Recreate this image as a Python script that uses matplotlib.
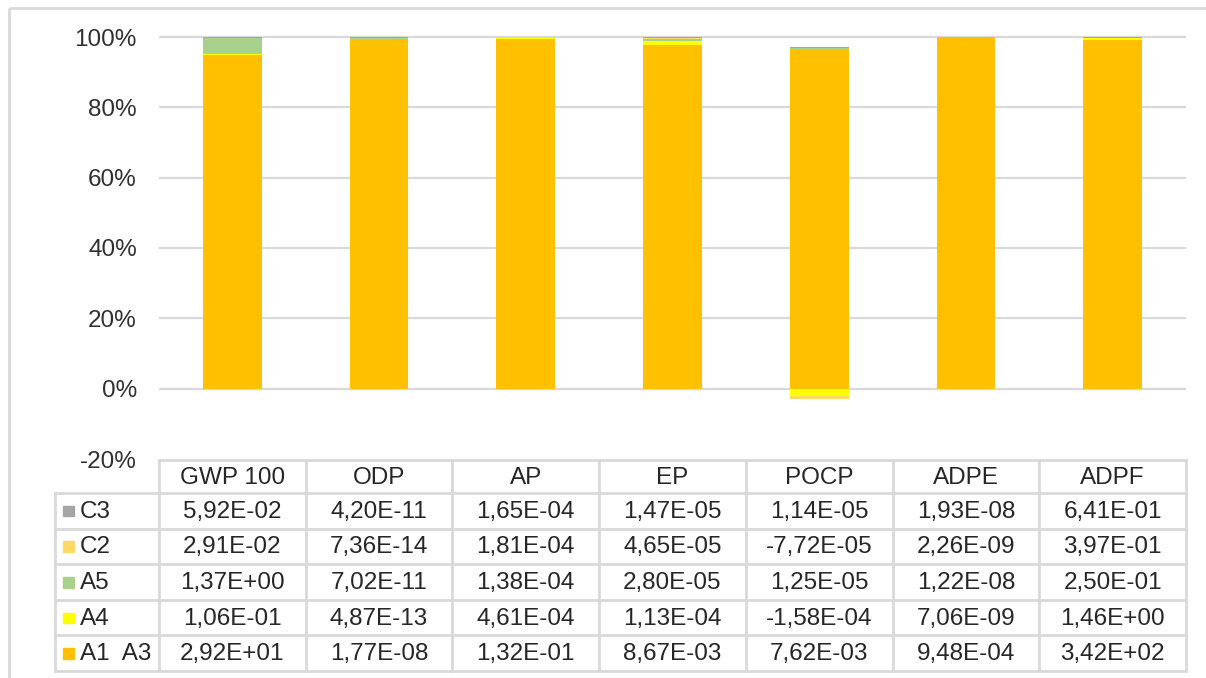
import numpy as np
import matplotlib
matplotlib.use('Agg')
from matplotlib import pyplot as plt
from matplotlib.patches import Rectangle

plt.rcParams['font.family'] = ['Liberation Sans', 'DejaVu Sans']

categories = ['GWP 100', 'ODP', 'AP', 'EP', 'POCP', 'ADPE', 'ADPF']
series_names = ['C3', 'C2', 'A5', 'A4', 'A1  A3']   # table order, top to bottom
c3 = [5.92e-02, 4.20e-11, 1.65e-04, 1.47e-05, 1.14e-05, 1.93e-08, 6.41e-01]
c2 = [2.91e-02, 7.36e-14, 1.81e-04, 4.65e-05, -7.72e-05, 2.26e-09, 3.97e-01]
a5 = [1.37e+00, 7.02e-11, 1.38e-04, 2.80e-05, 1.25e-05, 1.22e-08, 2.50e-01]
a4 = [1.06e-01, 4.87e-13, 4.61e-04, 1.13e-04, -1.58e-04, 7.06e-09, 1.46e+00]
a1_a3 = [2.92e+01, 1.77e-08, 1.32e-01, 8.67e-03, 7.62e-03, 9.48e-04, 3.42e+02]
colors = {'C3': '#A5A5A5', 'C2': '#FFD966', 'A5': '#A9D18E', 'A4': '#FFFF00', 'A1  A3': '#FFC000'}
yticks = [-20, 0, 20, 40, 60, 80, 100]

table_rows = [c3, c2, a5, a4, a1_a3]
stack_order = [('A1  A3', a1_a3), ('A4', a4), ('A5', a5), ('C2', c2), ('C3', c3)]

W, H = 1206, 678
fig = plt.figure(figsize=(W / 100, H / 100), dpi=100)

# 100% stacked: share of the sum of absolute values (like Excel)
vals = np.array([v for _, v in stack_order])
pct = vals / np.abs(vals).sum(axis=0) * 100

# plot area in pixels
x0, x1 = 159, 1186
y_top, y_bot = 37, 459          # 100% and -20%
ppu = (y_bot - y_top) / 120.0
ax = fig.add_axes([x0 / W, (H - y_bot) / H, (x1 - x0) / W, (y_bot - y_top + ppu) / H])
ax.set_xlim(-0.5, len(categories) - 0.5)
ax.set_ylim(-20, 101)

x = np.arange(len(categories))
pos_base = np.zeros(len(categories))
neg_base = np.zeros(len(categories))
for (name, _), p in zip(stack_order, pct):
    pos = np.where(p > 0, p, 0)
    neg = np.where(p < 0, p, 0)
    ax.bar(x, pos, 0.4, bottom=pos_base, color=colors[name], zorder=3)
    ax.bar(x, neg, 0.4, bottom=neg_base, color=colors[name], zorder=3)
    pos_base += pos
    neg_base += neg

for t in yticks[1:]:
    ax.axhline(t, color='#D9D9D9', lw=1.6, zorder=1)
ax.set_yticks(yticks)
ax.set_yticklabels(['%d%%' % t for t in yticks])
ax.tick_params(axis='y', length=0, pad=16, labelsize=17.5, labelcolor='#303030')
ax.set_xticks([])
for s in ax.spines.values():
    s.set_visible(False)

# overlay in pixel coordinates for border and data table
ov = fig.add_axes([0, 0, 1, 1], zorder=-1)
ov.set_xlim(0, W)
ov.set_ylim(H, 0)
ov.axis('off')
ov.add_patch(Rectangle((9, 8), W + 20, H + 20, fill=False, ec='#D9D9D9', lw=2))

ov2 = fig.add_axes([0, 0, 1, 1])
ov2.set_xlim(0, W)
ov2.set_ylim(H, 0)
ov2.axis('off')
ov2.patch.set_visible(False)

lc = '#D9D9D9'
lw = 2
col_w = (x1 - x0) / len(categories)
hdr_top, hdr_bot = 460, 493
row_h = (671 - hdr_bot) / len(series_names)
leg_x = 55
tc = '#262626'
fs = 17.5

# header
ov2.plot([x0, x1], [hdr_top, hdr_top], color=lc, lw=lw)
for i, c in enumerate(categories):
    ov2.text(x0 + (i + 0.5) * col_w, (hdr_top + hdr_bot) / 2 + 1, c,
             ha='center', va='center', fontsize=fs, color=tc)
for i in range(len(categories) + 1):
    ov2.plot([x0 + i * col_w] * 2, [hdr_top, 671], color=lc, lw=lw)
ov2.plot([leg_x, leg_x], [hdr_bot, 671], color=lc, lw=lw)
for r in range(len(series_names) + 1):
    y = hdr_bot + r * row_h
    ov2.plot([leg_x, x1], [y, y], color=lc, lw=lw)

for r, (name, row) in enumerate(zip(series_names, table_rows)):
    yc = hdr_bot + (r + 0.5) * row_h
    ov2.add_patch(Rectangle((63, yc - 5), 10.5, 10.5, color=colors[name]))
    ov2.text(80, yc + 1, name, ha='left', va='center', fontsize=fs, color=tc)
    for i, v in enumerate(row):
        s = ('%.2E' % v).replace('.', ',')
        ov2.text(x0 + (i + 0.5) * col_w, yc + 1, s, ha='center', va='center',
                 fontsize=fs, color=tc)

fig.savefig('out.png', dpi=100)
